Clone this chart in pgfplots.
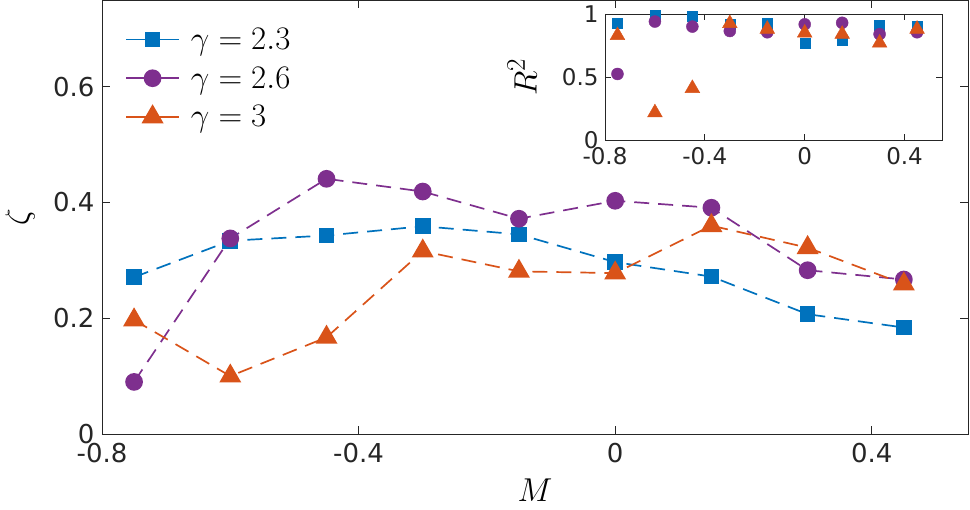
\RequirePackage{fix-cm}
\documentclass[border=0pt]{standalone}
\usepackage{graphicx}
\usepackage{pgfplots}
\pgfplotsset{compat=1.18}
\usepackage{fontspec}
\setmainfont{DejaVu Sans}
\definecolor{mblue}{rgb}{0,0.447,0.741}
\definecolor{morange}{rgb}{0.85,0.325,0.098}
\definecolor{mpurple}{rgb}{0.494,0.184,0.556}
\definecolor{axgray}{rgb}{0.15,0.15,0.15}
\newcommand{\scmath}[2]{\scalebox{#1}{\fontsize{24.88}{30}\selectfont$#2$}}
\begin{document}
\begin{tikzpicture}[x=1pt,y=1pt]
\useasboundingbox (0,0) rectangle (970,510);
\begin{axis}[
  at={(102pt,76pt)}, anchor=south west,
  scale only axis, width=866pt, height=434pt,
  xmin=-0.8, xmax=0.55, ymin=0, ymax=0.75,
  xtick={-0.8,-0.4,0,0.4}, ytick={0,0.2,0.4,0.6},
  xticklabels={-0.8,-0.4,0,0.4}, yticklabels={0,0.2,0.4,0.6},
  tick align=inside, major tick length=8pt,
  axis line style={axgray, line width=0.9pt},
  every tick/.style={axgray, line width=0.9pt},
  tick label style={font=\fontsize{26}{30}\selectfont, text=axgray},
  xticklabel style={yshift=-6pt},
  yticklabel style={xshift=-4pt},
  xlabel={\scmath{1.33}{M}}, ylabel={\scmath{1.33}{\zeta}},
  xlabel style={at={(axis description cs:0.5,-0.129)}, anchor=center},
  ylabel style={at={(axis description cs:-0.0947,0.5)}, anchor=center},
  legend style={draw=none, fill=none, at={(axis description cs:0.0266,0.94)}, anchor=north west,
    row sep=12pt, column sep=9pt, inner sep=0pt, nodes={inner sep=2pt}},
  legend cell align=left,
  legend image code/.code={
    \draw[#1, solid, line width=1.7pt] (0pt,0pt) -- (53pt,0pt);
    \draw[#1, solid, only marks] plot coordinates {(26.5pt,0pt)};
  },
  every axis plot/.append style={line width=1.7pt, dash pattern=on 15pt off 9pt},
  clip=false,
]
\addplot[mblue, mark=square*, mark size=7pt, mark options={solid}] coordinates {
(-0.75,0.271) (-0.6,0.334) (-0.45,0.343) (-0.3,0.359) (-0.15,0.345) (0,0.297) (0.15,0.272) (0.3,0.207) (0.45,0.184)};
\addlegendentry{\scmath{1.32}{\gamma=2.3}}
\addplot[mpurple, mark=*, mark size=8pt, mark options={solid}] coordinates {
(-0.75,0.090) (-0.6,0.338) (-0.45,0.441) (-0.3,0.419) (-0.15,0.372) (0,0.403) (0.15,0.391) (0.3,0.283) (0.45,0.267)};
\addlegendentry{\scmath{1.32}{\gamma=2.6}}
\addplot[morange, mark=triangle*, mark size=11pt, mark options={solid}] coordinates {
(-0.75,0.197) (-0.6,0.100) (-0.45,0.167) (-0.3,0.316) (-0.15,0.281) (0,0.278) (0.15,0.360) (0.3,0.322) (0.45,0.259)};
\addlegendentry{\scmath{1.32}{\gamma=3}}
\end{axis}
\begin{axis}[
  at={(605pt,370pt)}, anchor=south west,
  scale only axis, width=337pt, height=126pt,
  xmin=-0.8, xmax=0.55, ymin=0, ymax=1,
  xtick={-0.8,-0.4,0,0.4}, ytick={0,0.5,1},
  xticklabels={-0.8,-0.4,0,0.4}, yticklabels={0,0.5,1},
  tick align=inside, major tick length=6pt,
  axis background/.style={fill=white},
  axis line style={axgray, line width=0.9pt},
  every tick/.style={axgray, line width=0.9pt},
  tick label style={font=\fontsize{23}{27}\selectfont, text=axgray},
  xticklabel style={yshift=-4pt},
  yticklabel style={xshift=-3pt},
  ylabel={\scmath{1.3}{R^2}},
  ylabel style={at={(axis description cs:-0.246,0.5)}, anchor=center},
]
\addplot[mblue, only marks, mark=square*, mark size=5pt] coordinates {
(-0.75,0.926) (-0.6,0.99) (-0.45,0.98) (-0.3,0.92) (-0.15,0.926) (0,0.77) (0.15,0.79) (0.3,0.91) (0.45,0.90)};
\addplot[mpurple, only marks, mark=*, mark size=6pt] coordinates {
(-0.75,0.524) (-0.6,0.94) (-0.45,0.90) (-0.3,0.865) (-0.15,0.855) (0,0.918) (0.15,0.93) (0.3,0.84) (0.45,0.855)};
\addplot[morange, only marks, mark=triangle*, mark size=8.5pt] coordinates {
(-0.75,0.83) (-0.6,0.217) (-0.45,0.41) (-0.3,0.925) (-0.15,0.88) (0,0.85) (0.15,0.84) (0.3,0.77) (0.45,0.88)};
\end{axis}
\end{tikzpicture}
\end{document}
